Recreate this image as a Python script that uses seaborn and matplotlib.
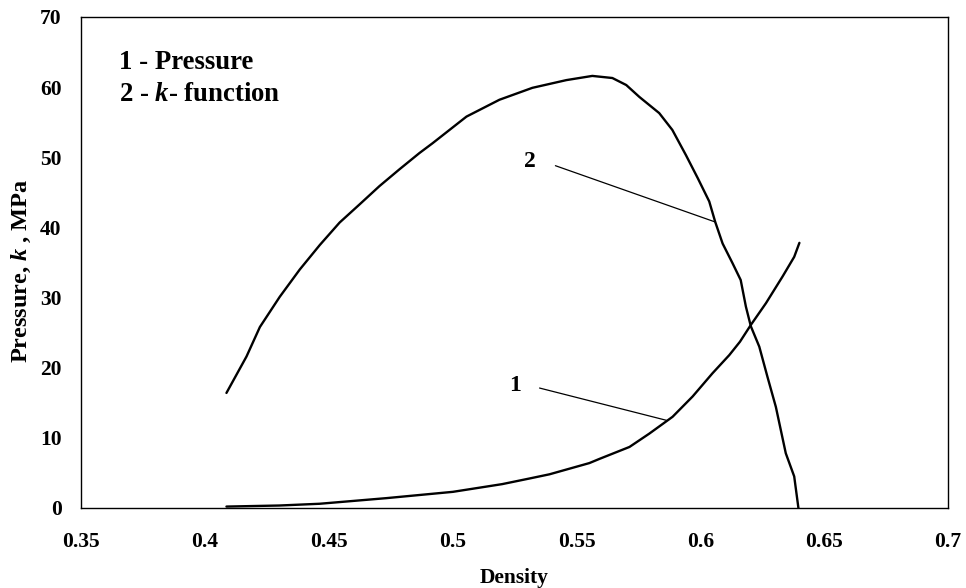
import matplotlib
matplotlib.use("Agg")
import matplotlib.pyplot as plt
import seaborn as sns
import pandas as pd

# ---- data ----
pressure_density = [0.4087, 0.430, 0.4463, 0.4732, 0.5001, 0.520, 0.531, 0.5391, 0.5552,
                    0.5593, 0.5714, 0.5794, 0.5888, 0.5969, 0.6049, 0.6117, 0.616, 0.6204,
                    0.6265, 0.6332, 0.6379, 0.640]
pressure_values = [0.2, 0.35, 0.6, 1.4, 2.3, 3.4, 4.2, 4.8, 6.4,
                   7.0, 8.7, 10.6, 13.0, 15.9, 19.2, 21.8, 23.7, 26.1,
                   29.2, 33.0, 35.8, 37.8]

k_density = [0.4087, 0.4168, 0.4222, 0.4302, 0.4383, 0.4464, 0.4544, 0.4625, 0.4705,
             0.4786, 0.4866, 0.4919, 0.5056, 0.5189, 0.5322, 0.5459, 0.5564, 0.5645,
             0.5701, 0.5754, 0.5834, 0.5887, 0.5942, 0.5990, 0.6036, 0.6060, 0.609,
             0.613, 0.6163, 0.6184, 0.6204, 0.6238, 0.6271, 0.6305, 0.6345, 0.6379, 0.6396]
k_values = [16.4, 21.6, 25.8, 30.1, 34.0, 37.5, 40.7, 43.3, 45.9,
            48.3, 50.6, 52.0, 55.8, 58.2, 59.9, 61.0, 61.6, 61.3,
            60.3, 58.6, 56.3, 53.9, 50.3, 47.0, 43.7, 40.8, 37.7,
            34.9, 32.5, 28.7, 25.9, 23.0, 18.7, 14.4, 7.8, 4.5, 0.0]

x_ticks = [0.35, 0.4, 0.45, 0.5, 0.55, 0.6, 0.65, 0.7]
x_tick_labels = ["0.35", "0.4", "0.45", "0.5", "0.55", "0.6", "0.65", "0.7"]
y_ticks = [0, 10, 20, 30, 40, 50, 60, 70]

# leader lines (label position, line start, line end) in data units
label2_pos = (0.531, 49.4)
leader2_x = [0.5415, 0.6058]
leader2_y = [48.8, 40.8]
label1_pos = (0.5253, 17.4)
leader1_x = [0.5351, 0.5863]
leader1_y = [17.1, 12.5]

df_p = pd.DataFrame({"Density": pressure_density, "Value": pressure_values})
df_k = pd.DataFrame({"Density": k_density, "Value": k_values})

sns.set_style("white")
plt.rcParams["font.family"] = ["Liberation Serif", "DejaVu Serif"]
plt.rcParams["font.weight"] = "bold"
plt.rcParams["text.color"] = "black"
plt.rcParams["axes.labelcolor"] = "black"
plt.rcParams["mathtext.fontset"] = "custom"
plt.rcParams["mathtext.it"] = "Liberation Serif:italic:bold"
plt.rcParams["mathtext.rm"] = "Liberation Serif:bold"

fig = plt.figure(figsize=(9.66, 5.88), dpi=100)
ax = fig.add_axes([0.0839, 0.1361, 0.8975, 0.835])

sns.lineplot(data=df_p, x="Density", y="Value", ax=ax, color="black", lw=1.7, sort=False)
sns.lineplot(data=df_k, x="Density", y="Value", ax=ax, color="black", lw=1.7, sort=False)

ax.set_xlim(0.35, 0.7)
ax.set_ylim(0, 70)
ax.set_xticks(x_ticks)
ax.set_xticklabels(x_tick_labels)
ax.set_yticks(y_ticks)
ax.tick_params(axis="both", direction="out", length=5, width=0.8, color="#555555",
               labelsize=15.5, labelcolor="black")
ax.tick_params(axis="x", pad=12)
ax.tick_params(axis="y", pad=9)
for lab in ax.get_xticklabels() + ax.get_yticklabels():
    lab.set_fontweight("bold")
for sp in ax.spines.values():
    sp.set_visible(True)
    sp.set_color("black")
    sp.set_linewidth(1.0)

ax.set_xlabel("Density", fontsize=15.5, fontweight="bold", labelpad=12)
ax.set_ylabel("Pressure, $k$ , MPa", fontsize=17.5, fontweight="bold")
ax.yaxis.set_label_coords(-0.055, 0.483)

# legend-like text
ax.text(0.0438, 0.908, "1 - Pressure", transform=ax.transAxes,
        fontsize=19.3, fontweight="bold", va="center", ha="left")
ax.text(0.0438, 0.843, "2 - $k$- function", transform=ax.transAxes,
        fontsize=19.3, fontweight="bold", va="center", ha="left")

# curve labels with leader lines
ax.text(*label2_pos, "2", fontsize=17, fontweight="bold", ha="center", va="center")
ax.plot(leader2_x, leader2_y, color="black", lw=0.9)
ax.text(*label1_pos, "1", fontsize=17, fontweight="bold", ha="center", va="center")
ax.plot(leader1_x, leader1_y, color="black", lw=0.9)

fig.savefig("out.png", dpi=100)
